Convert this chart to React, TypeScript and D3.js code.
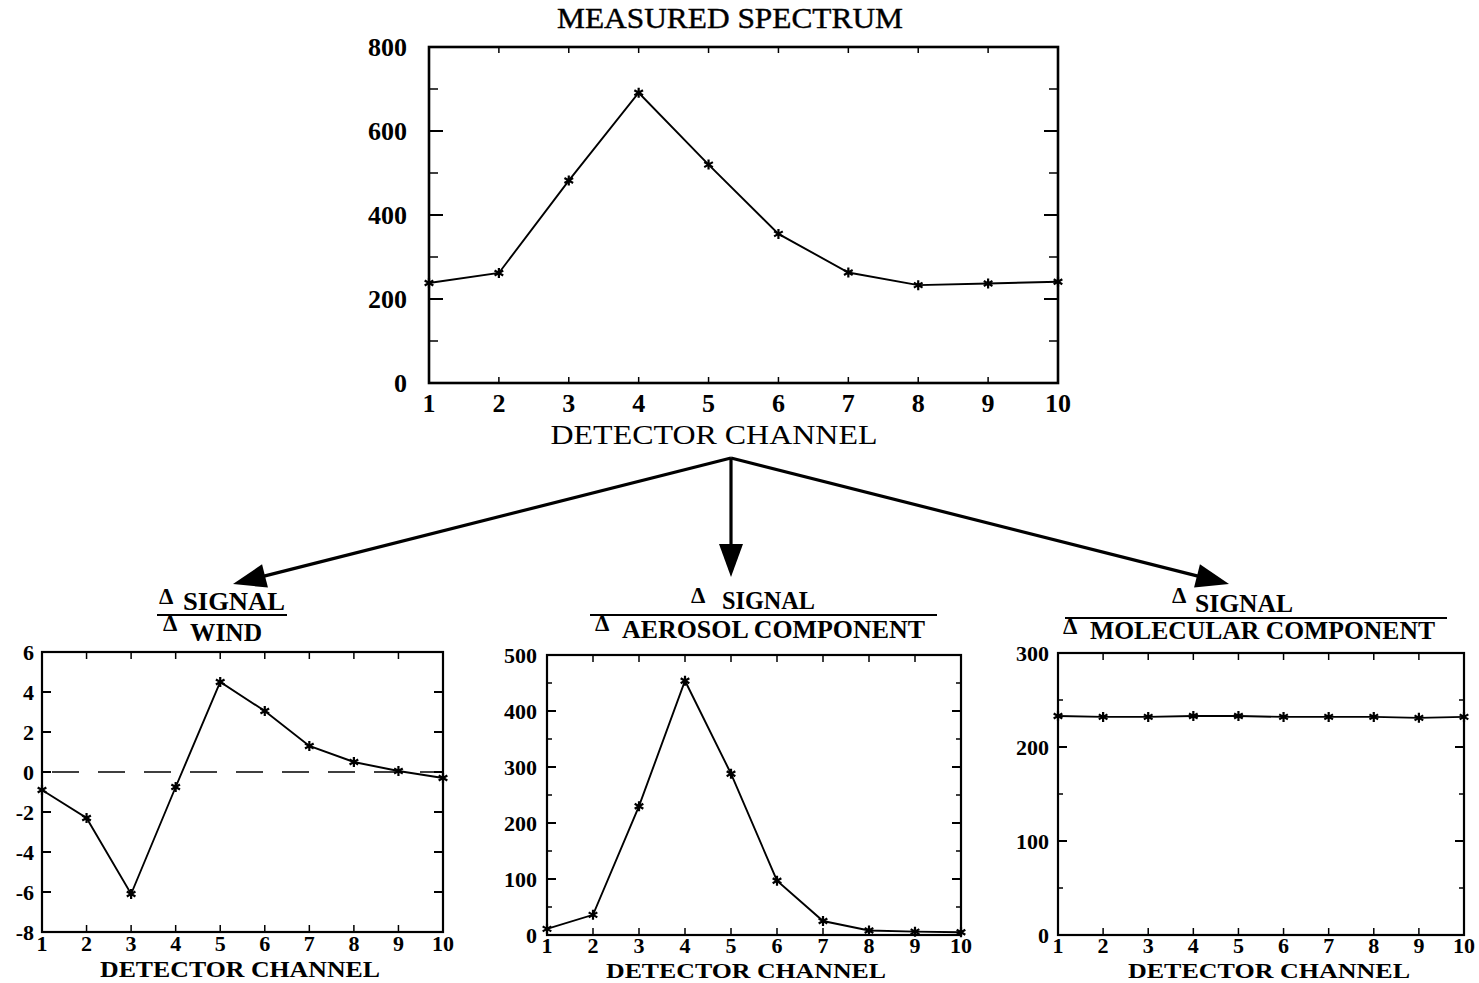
import React from 'react';
import * as d3 from 'd3';

// channel axis shared by all four panels
const channels = [1, 2, 3, 4, 5, 6, 7, 8, 9, 10];

// series values
const measured = [238, 262, 482, 691, 520, 355, 263, 233, 237, 241];
const windDeriv = [-0.9, -2.3, -6.1, -0.75, 4.5, 3.05, 1.3, 0.5, 0.05, -0.3];
const aerosolDeriv = [11, 36, 230, 454, 288, 97, 25, 8, 6, 5];
const molecularDeriv = [233, 232, 232, 233, 233, 232, 232, 232, 231, 232];

// tick values
const topYTicks = [0, 200, 400, 600, 800];
const topYMinor = [100, 300, 500, 700];
const windYTicks = [-8, -6, -4, -2, 0, 2, 4, 6];
const aerosolYTicks = [0, 100, 200, 300, 400, 500];
const aerosolYMinor = [50, 150, 250, 350, 450];
const molYTicks = [0, 100, 200, 300];
const molYMinor = [50, 150, 250];

const FONT = '"Liberation Serif", "DejaVu Serif", serif';

interface PanelProps {
  x0: number;
  x1: number;
  y0: number;
  y1: number;
  yDomain: [number, number];
  values: number[];
  yTicks: number[];
  yMinor?: number[];
  tickFont: number;
  yLabelGap: number;
  xLabelY: number;
  majorLen: number;
  minorLen: number;
  xTickLen: number;
  frameWidth: number;
  zeroLine?: boolean;
  xTitle: { x: number; y: number; size: number; len: number; bold: boolean };
}

const Panel: React.FC<PanelProps> = (p) => {
  const x = d3.scaleLinear().domain([1, 10]).range([p.x0, p.x1]);
  const y = d3.scaleLinear().domain(p.yDomain).range([p.y1, p.y0]);
  const pts = channels.map((c, i) => [c, p.values[i]] as [number, number]);
  const path = d3
    .line<[number, number]>()
    .x((d) => x(d[0]))
    .y((d) => y(d[1]))(pts);
  const marker = d3.symbol(d3.symbolAsterisk, 70)();

  return (
    <g>
      {p.zeroLine && (
        <line
          x1={p.x0 + 10}
          x2={p.x1}
          y1={y(0)}
          y2={y(0)}
          stroke="#000"
          strokeWidth={1.4}
          strokeDasharray="27,19"
        />
      )}
      <path d={path || ''} fill="none" stroke="#000" strokeWidth={1.9} />
      {pts.map((d, i) => (
        <path
          key={i}
          d={marker || ''}
          transform={`translate(${x(d[0])},${y(d[1])})`}
          fill="none"
          stroke="#000"
          strokeWidth={2.2}
        />
      ))}
      {/* y ticks, both sides, inward */}
      {p.yTicks.map((t) => (
        <g key={'ym' + t}>
          <line x1={p.x0} x2={p.x0 + p.majorLen} y1={y(t)} y2={y(t)} stroke="#000" strokeWidth={2} />
          <line x1={p.x1} x2={p.x1 - p.majorLen} y1={y(t)} y2={y(t)} stroke="#000" strokeWidth={2} />
          <text
            x={p.x0 - p.yLabelGap}
            y={y(t)}
            dy="0.35em"
            textAnchor="end"
            fontFamily={FONT}
            fontWeight="bold"
            fontSize={p.tickFont}
          >
            {t}
          </text>
        </g>
      ))}
      {(p.yMinor || []).map((t) => (
        <g key={'yn' + t}>
          <line x1={p.x0} x2={p.x0 + p.minorLen} y1={y(t)} y2={y(t)} stroke="#000" strokeWidth={1.5} />
          <line x1={p.x1} x2={p.x1 - p.minorLen} y1={y(t)} y2={y(t)} stroke="#000" strokeWidth={1.5} />
        </g>
      ))}
      {/* x ticks, top and bottom */}
      {channels.map((c) => (
        <g key={'x' + c}>
          <line x1={x(c)} x2={x(c)} y1={p.y1} y2={p.y1 - p.xTickLen} stroke="#000" strokeWidth={1.5} />
          <line x1={x(c)} x2={x(c)} y1={p.y0} y2={p.y0 + p.xTickLen} stroke="#000" strokeWidth={1.5} />
          <text
            x={x(c)}
            y={p.xLabelY}
            textAnchor="middle"
            fontFamily={FONT}
            fontWeight="bold"
            fontSize={p.tickFont}
          >
            {c}
          </text>
        </g>
      ))}
      <rect
        x={p.x0}
        y={p.y0}
        width={p.x1 - p.x0}
        height={p.y1 - p.y0}
        fill="none"
        stroke="#000"
        strokeWidth={p.frameWidth}
      />
      <text
        x={p.xTitle.x}
        y={p.xTitle.y}
        textAnchor="middle"
        fontFamily={FONT}
        fontWeight={p.xTitle.bold ? 'bold' : 'normal'}
        fontSize={p.xTitle.size}
        textLength={p.xTitle.len}
        lengthAdjust="spacingAndGlyphs"
      >
        DETECTOR CHANNEL
      </text>
    </g>
  );
};

interface FracProps {
  numD: [number, number];
  num: [number, number, number];
  lineY: number;
  lineX: [number, number];
  denD: [number, number];
  den: [number, number, number];
  denText: string;
}

// the "Δ signal / Δ something" heading over each lower panel
const Fraction: React.FC<FracProps> = (f) => (
  <g fontFamily={FONT} fontWeight="bold">
    <text x={f.numD[0]} y={f.numD[1]} fontSize={23}>Δ</text>
    <text x={f.num[0]} y={f.num[1]} fontSize={25} textLength={f.num[2]} lengthAdjust="spacingAndGlyphs">
      SIGNAL
    </text>
    <line x1={f.lineX[0]} x2={f.lineX[1]} y1={f.lineY} y2={f.lineY} stroke="#000" strokeWidth={2.2} />
    <text x={f.denD[0]} y={f.denD[1]} fontSize={23}>Δ</text>
    <text x={f.den[0]} y={f.den[1]} fontSize={25} textLength={f.den[2]} lengthAdjust="spacingAndGlyphs">
      {f.denText}
    </text>
  </g>
);

const Arrow: React.FC<{ from: [number, number]; to: [number, number] }> = ({ from, to }) => {
  const dx = to[0] - from[0];
  const dy = to[1] - from[1];
  const len = Math.hypot(dx, dy);
  const ux = dx / len;
  const uy = dy / len;
  const headLen = 33;
  const headW = 12;
  const bx = to[0] - ux * headLen;
  const by = to[1] - uy * headLen;
  const head = `M${to[0]},${to[1]} L${bx - uy * headW},${by + ux * headW} L${bx + uy * headW},${by - ux * headW} Z`;
  return (
    <g>
      <line x1={from[0]} y1={from[1]} x2={bx + ux * 2} y2={by + uy * 2} stroke="#000" strokeWidth={3.2} />
      <path d={head} fill="#000" />
    </g>
  );
};

export default function App() {
  return (
    <svg
      width={1479}
      height={983}
      style={{ position: 'absolute', left: 0, top: 0, background: '#fff' }}
    >
      <rect width={1479} height={983} fill="#fff" />
      <text
        x={730}
        y={28}
        textAnchor="middle"
        fontFamily={FONT}
        fontSize={29}
        textLength={346}
        lengthAdjust="spacingAndGlyphs"
        stroke="#000"
        strokeWidth={0.4}
      >
        MEASURED SPECTRUM
      </text>
      <Panel
        x0={429}
        x1={1058}
        y0={47}
        y1={383}
        yDomain={[0, 800]}
        values={measured}
        yTicks={topYTicks}
        yMinor={topYMinor}
        tickFont={26}
        yLabelGap={22}
        xLabelY={412}
        majorLen={14}
        minorLen={9}
        xTickLen={6}
        frameWidth={2.6}
        xTitle={{ x: 714, y: 444, size: 27, len: 327, bold: false }}
      />

      <Arrow from={[731, 458]} to={[233, 584]} />
      <Arrow from={[731, 458]} to={[731, 577]} />
      <Arrow from={[731, 458]} to={[1229, 584]} />

      <Fraction
        numD={[159, 604]}
        num={[183, 610, 102]}
        lineY={615}
        lineX={[157, 287]}
        denD={[163, 631]}
        den={[190, 641, 72]}
        denText="WIND"
      />
      <Panel
        x0={42}
        x1={443}
        y0={652}
        y1={932}
        yDomain={[-8, 6]}
        values={windDeriv}
        yTicks={windYTicks}
        tickFont={22}
        yLabelGap={8}
        xLabelY={951}
        majorLen={9}
        minorLen={5}
        xTickLen={7}
        frameWidth={2.2}
        zeroLine
        xTitle={{ x: 240, y: 977, size: 23, len: 280, bold: true }}
      />

      <Fraction
        numD={[691, 603]}
        num={[722, 609, 93]}
        lineY={615}
        lineX={[590, 937]}
        denD={[595, 631]}
        den={[622, 638, 303]}
        denText="AEROSOL COMPONENT"
      />
      <Panel
        x0={547}
        x1={961}
        y0={655}
        y1={935}
        yDomain={[0, 500]}
        values={aerosolDeriv}
        yTicks={aerosolYTicks}
        yMinor={aerosolYMinor}
        tickFont={22}
        yLabelGap={10}
        xLabelY={953}
        majorLen={9}
        minorLen={5}
        xTickLen={7}
        frameWidth={2.2}
        xTitle={{ x: 746, y: 978, size: 22, len: 280, bold: true }}
      />

      <Fraction
        numD={[1172, 603]}
        num={[1195, 612, 98]}
        lineY={618}
        lineX={[1065, 1447]}
        denD={[1063, 634]}
        den={[1090, 639, 345]}
        denText="MOLECULAR COMPONENT"
      />
      <Panel
        x0={1058}
        x1={1464}
        y0={653}
        y1={935}
        yDomain={[0, 300]}
        values={molecularDeriv}
        yTicks={molYTicks}
        yMinor={molYMinor}
        tickFont={22}
        yLabelGap={9}
        xLabelY={953}
        majorLen={9}
        minorLen={5}
        xTickLen={7}
        frameWidth={2.2}
        xTitle={{ x: 1269, y: 978, size: 22, len: 282, bold: true }}
      />
    </svg>
  );
}
